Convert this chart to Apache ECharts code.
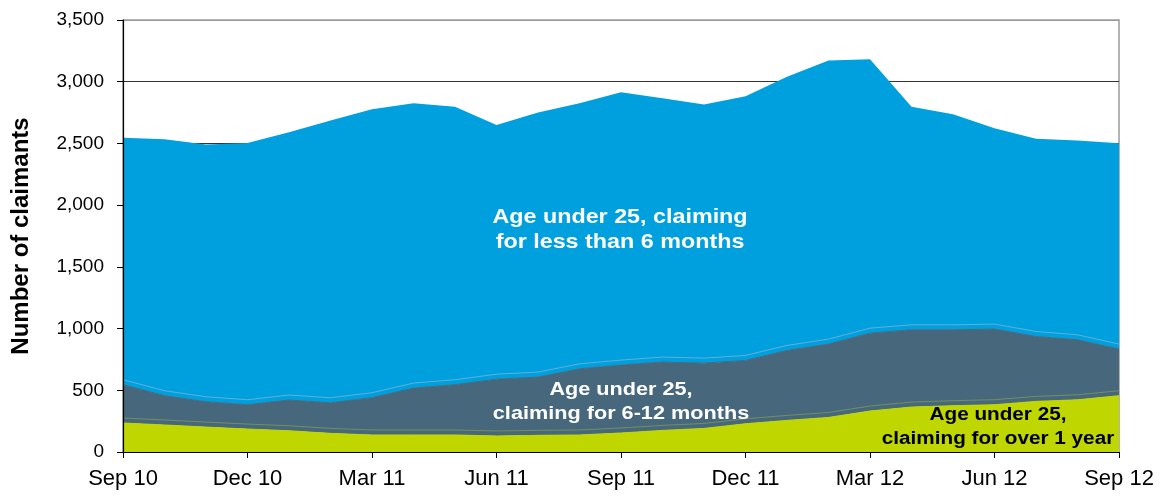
<!DOCTYPE html>
<html>
<head>
<meta charset="utf-8">
<script src="https://cdn.jsdelivr.net/npm/echarts@6/dist/echarts.min.js"></script>
<style>
html,body{margin:0;padding:0;background:#fff;}
#chart{width:1162px;height:497px;}
</style>
</head>
<body>
<div id="chart"></div>
<script>
const categories = ['Sep 10','Oct 10','Nov 10','Dec 10','Jan 11','Feb 11','Mar 11','Apr 11','May 11','Jun 11','Jul 11','Aug 11','Sep 11','Oct 11','Nov 11','Dec 11','Jan 12','Feb 12','Mar 12','Apr 12','May 12','Jun 12','Jul 12','Aug 12','Sep 12'];
const overOneYear = [235,219,202,186,172,151,138,138,138,130,135,138,154,175,191,229,256,280,332,364,375,383,410,423,456];
const sixToTwelve = [310,237,205,197,249,248,302,380,407,460,472,536,550,554,529,513,567,594,631,626,615,613,526,486,378];
const lessThanSix = [2002,2078,2085,2121,2169,2286,2337,2308,2253,2060,2143,2152,2211,2137,2095,2140,2218,2297,2219,1808,1747,1627,1601,1614,1668];
const yTicks = [0,500,1000,1500,2000,2500,3000,3500];

const chart = echarts.init(document.getElementById('chart'), null, {renderer:'canvas'});
const font = 'Liberation Sans, Arial, sans-serif';
function areaSeries(name, data, color, z, shadowColor){
  return {
    name, type:'line', stack:'total', data, symbol:'none', smooth:false, yAxisIndex:0,
    lineStyle: shadowColor
      ? {width:1, color, shadowColor, shadowOffsetY:-5, shadowOffsetX:0, shadowBlur:0}
      : {width:0, color},
    areaStyle:{color, opacity:1}, itemStyle:{color},
    emphasis:{disabled:true}, z
  };
}
const yMin = yTicks[0], yMax = yTicks[yTicks.length-1], yStep = yTicks[1]-yTicks[0];
chart.setOption({
  animation:false,
  backgroundColor:'#fff',
  grid:{left:123,right:43,top:20,bottom:45,show:true,borderColor:'#9a9a9a',borderWidth:1.5,backgroundColor:'transparent'},
  xAxis:{
    type:'category', data:categories, boundaryGap:false,
    axisLine:{lineStyle:{color:'#000',width:1.2}},
    axisTick:{interval:2,length:6,lineStyle:{color:'#000'}},
    axisLabel:{interval:2,color:'#000',fontSize:22,fontFamily:font,margin:16},
    splitLine:{show:false}, z:6
  },
  yAxis:[{
    type:'value', min:yMin, max:yMax, interval:yStep, position:'left',
    axisLine:{show:false}, axisTick:{show:false}, axisLabel:{show:false},
    splitLine:{show:true,lineStyle:{color:['#000','#333','#333','#333','#333','#333','#333','#9a9a9a'],width:1.2}},
    z:0
  },{
    type:'value', min:yMin, max:yMax, interval:yStep, position:'left',
    name:'Number of claimants', nameLocation:'middle', nameGap:90,
    nameTextStyle:{fontSize:24,fontWeight:'bold',color:'#000',fontFamily:font},
    axisLine:{show:true,lineStyle:{color:'#000',width:1.2}},
    axisTick:{show:true,length:6,lineStyle:{color:'#000'}},
    axisLabel:{color:'#000',fontSize:19,fontFamily:font,margin:19,
      formatter:v=>v.toLocaleString('en-US')},
    splitLine:{show:false},
    z:6
  }],
  series:[
    areaSeries('Age under 25, claiming for over 1 year', overOneYear, '#BFD600', 4, 'rgba(150,175,70,0.55)'),
    areaSeries('Age under 25, claiming for 6-12 months', sixToTwelve, '#47687C', 3, 'rgba(110,175,215,0.9)'),
    areaSeries('Age under 25, claiming for less than 6 months', lessThanSix, '#00A0DE', 2, null)
  ],
  graphic:[
    {type:'text',x:620,y:230,scaleX:1.11,style:{text:'Age under 25, claiming\nfor less than 6 months',fill:'#fff',font:'bold 21px '+font,textAlign:'center',textVerticalAlign:'middle',lineHeight:25},z:10},
    {type:'text',x:621,y:402,scaleX:1.14,style:{text:'Age under 25,\nclaiming for 6-12 months',fill:'#fff',font:'bold 19px '+font,textAlign:'center',textVerticalAlign:'middle',lineHeight:24},z:10},
    {type:'text',x:998,y:427,scaleX:1.15,style:{text:'Age under 25,\nclaiming for over 1 year',fill:'#000',font:'bold 18px '+font,textAlign:'center',textVerticalAlign:'middle',lineHeight:24},z:10}
  ]
});
</script>
</body>
</html>
